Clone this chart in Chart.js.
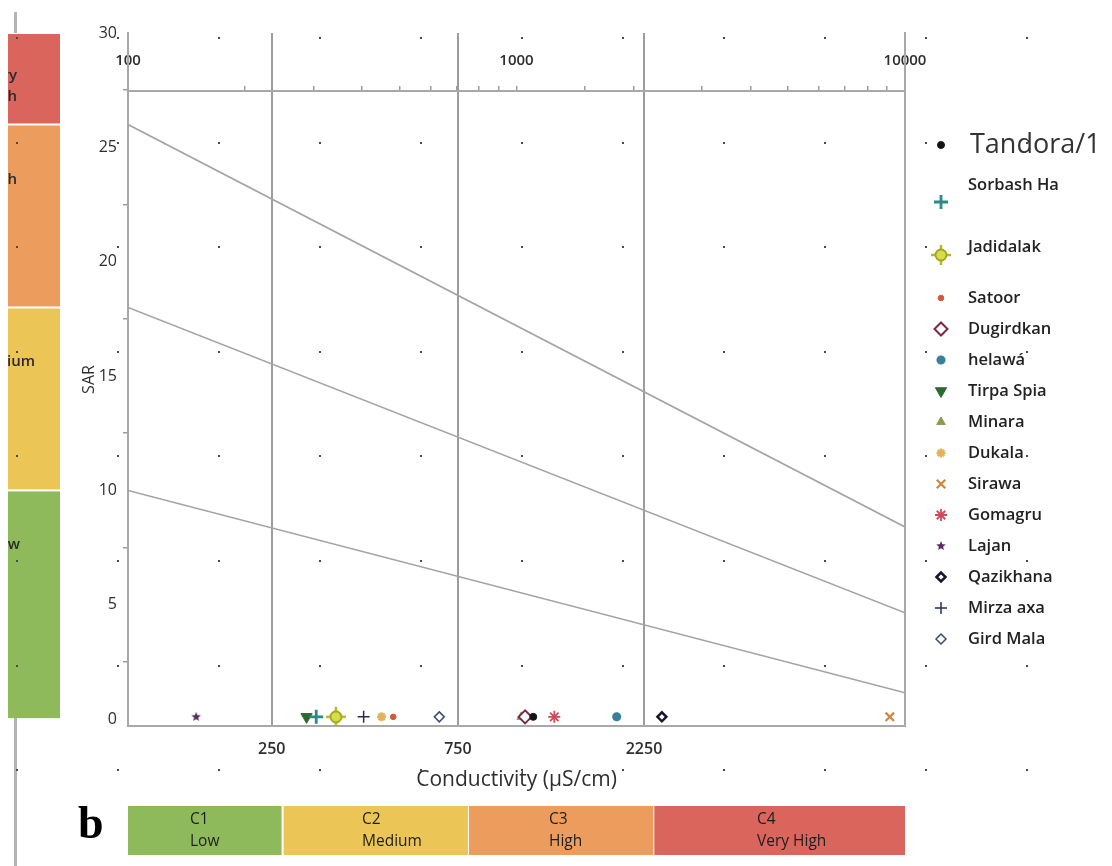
<!DOCTYPE html>
<html>
<head>
<meta charset="utf-8">
<script src="https://cdn.jsdelivr.net/npm/chart.js@4.4.1/dist/chart.umd.min.js"></script>
<style>
  html, body { margin: 0; padding: 0; background: #ffffff; }
  #wrap { position: relative; width: 1112px; height: 866px; }
</style>
</head>
<body>
<div id="wrap"><canvas id="chart" width="1112" height="866"></canvas></div>
<script>
// ---- Sampling sites: electrical conductivity (µS/cm) and sodium adsorption ratio ----
const siteNames = ['Tandora/1', 'Sorbash Ha', 'Jadidalak', 'Satoor', 'Dugirdkan', 'helawá',
  'Tirpa Spia', 'Minara', 'Dukala', 'Sirawa', 'Gomagru', 'Lajan', 'Qazikhana', 'Mirza axa', 'Gird Mala'];
const siteEC  = [1170, 325, 365, 512, 1115, 1915, 307, 1090, 478, 9600, 1325, 160, 2500, 430, 672];
const siteSAR = [0.1, 0.1, 0.1, 0.1, 0.1, 0.1, 0.1, 0.1, 0.1, 0.1, 0.1, 0.1, 0.1, 0.1, 0.1];

// ---- Axis ticks ----
const ecClassTicks = [250, 750, 2250];          // salinity class limits on the lower axis
const ecTopLabels  = [100, 1000, 10000];        // labelled decades on the upper axis
const sarTicks = [0, 2.5, 5, 7.5, 10, 12.5, 15, 17.5, 20, 22.5, 25, 27.5, 30];

// ---- Sodium hazard boundary lines (SAR at EC = 100 and EC = 10000) ----
const limitEC = [100, 10000];
const limitS4 = [26, 8.4];
const limitS3 = [18, 4.65];
const limitS2 = [10, 1.15];

// ---- Hazard classes ----
const ecClassBounds  = [100, 250, 750, 2250, 10000];
const ecClassCodes   = ['C1', 'C2', 'C3', 'C4'];
const ecClassNames   = ['Low', 'Medium', 'High', 'Very High'];
const sarClassBounds = [0, 10, 18, 26, 30];
const sarClassNames  = [['Low'], ['Medium'], ['High'], ['Very', 'High']];
const classColors    = ['#8fba5b', '#ebc656', '#ec9c5d', '#d9655d'];

// ---- Custom marker icons ----
function makeIcon(size, draw) {
  const c = document.createElement('canvas');
  c.width = size; c.height = size;
  draw(c.getContext('2d'), size / 2);
  return c;
}
const targetIcon = makeIcon(22, (g, m) => {
  g.strokeStyle = '#b3bb22'; g.lineWidth = 2.5;
  g.beginPath(); g.moveTo(m - 10, m); g.lineTo(m + 10, m); g.moveTo(m, m - 10); g.lineTo(m, m + 10); g.stroke();
  g.beginPath(); g.arc(m, m, 5.5, 0, Math.PI * 2);
  g.fillStyle = '#d6dc4a'; g.fill(); g.lineWidth = 1.8; g.strokeStyle = '#a2a41c'; g.stroke();
});
const starIcon = makeIcon(12, (g, m) => {
  g.beginPath();
  for (let i = 0; i < 10; i++) {
    const r = i % 2 === 0 ? 5 : 2.2;
    const a = -Math.PI / 2 + i * Math.PI / 5;
    g.lineTo(m + r * Math.cos(a), m + r * Math.sin(a));
  }
  g.closePath(); g.fillStyle = '#5b2b5e'; g.fill();
});

const markerStyles = [
  { pointStyle: 'circle',   radius: 3.5, fill: '#141414', stroke: '#141414', width: 1 },
  { pointStyle: 'cross',    radius: 7,   fill: '#2b8b8b', stroke: '#2b8b8b', width: 2.8 },
  { pointStyle: targetIcon, radius: 11,  fill: '#d6dc4a', stroke: '#a2a41c', width: 1 },
  { pointStyle: 'circle',   radius: 2.8, fill: '#d0593b', stroke: '#d0593b', width: 1 },
  { pointStyle: 'rectRot',  radius: 6.5, fill: '#ffffff', stroke: '#7b2848', width: 2 },
  { pointStyle: 'star',     radius: 4.5, fill: '#3a7f98', stroke: '#3a7f98', width: 3 },
  { pointStyle: 'triangle', radius: 6.5, fill: '#2d6a2e', stroke: '#2d6a2e', width: 1, rotation: 180 },
  { pointStyle: 'triangle', radius: 5,   fill: '#8c9c50', stroke: '#8c9c50', width: 1 },
  { pointStyle: 'star',     radius: 4.5, fill: '#e2b35a', stroke: '#e2b35a', width: 2.5 },
  { pointStyle: 'crossRot', radius: 6,   fill: '#d4843c', stroke: '#d4843c', width: 2.2 },
  { pointStyle: 'star',     radius: 6,   fill: '#d04a5a', stroke: '#d04a5a', width: 1.8 },
  { pointStyle: starIcon,   radius: 6,   fill: '#5b2b5e', stroke: '#5b2b5e', width: 1 },
  { pointStyle: 'rectRot',  radius: 4.5, fill: '#ffffff', stroke: '#151530', width: 2.5 },
  { pointStyle: 'cross',    radius: 6,   fill: '#2a2d55', stroke: '#2a2d55', width: 1.5 },
  { pointStyle: 'rectRot',  radius: 5,   fill: '#ffffff', stroke: '#3b4c6e', width: 1.5 }
];

// Legend rows: marker and label baselines
const legendMarkerY = [145, 202, 255, 298, 329, 360, 391, 422, 453, 484, 515, 546, 577, 608, 639];
const legendTextY   = [145, 185, 247, 298, 329, 360, 391, 422, 453, 484, 515, 546, 577, 608, 639];

const siteDatasets = siteNames.map((name, i) => {
  const s = markerStyles[i];
  return {
    label: name,
    data: [{ x: siteEC[i], y: siteSAR[i] }],
    xAxisID: 'x', yAxisID: 'y',
    pointStyle: s.pointStyle,
    pointRadius: s.radius,
    pointRotation: s.rotation || 0,
    backgroundColor: s.fill,
    borderColor: s.stroke,
    borderWidth: s.width,
    order: 0
  };
});

const limitDataset = (label, values) => ({
  label,
  data: limitEC.map((ec, i) => ({ x: ec, y: values[i] })),
  xAxisID: 'xTop', yAxisID: 'y',
  showLine: true, pointRadius: 0,
  borderColor: '#a3a3a3', borderWidth: 1.6,
  order: 10
});

// Background pieces: class bars, panel letter, dotted layout grid
const backdropPlugin = {
  id: 'backdrop',
  beforeDatasetsDraw(chart) {
    const { ctx } = chart;
    const yS = chart.scales.y;
    const xT = chart.scales.xTop;
    ctx.save();

    // left bar: sodium hazard classes
    for (let i = 0; i < 4; i++) {
      const yTop = yS.getPixelForValue(sarClassBounds[i + 1]);
      const yBot = yS.getPixelForValue(sarClassBounds[i]);
      ctx.fillStyle = classColors[i];
      ctx.fillRect(8, yTop + 1, 52, yBot - yTop - 2);
    }
    ctx.save();
    ctx.beginPath(); ctx.rect(8, 30, 52, 700); ctx.clip();
    ctx.fillStyle = '#2a2a2a';
    ctx.font = '600 15px "Open Sans"';
    ctx.textAlign = 'right'; ctx.textBaseline = 'middle';
    const sideRight = [20, 35, 17, 17];
    const sideY = [[545], [362], [180], [76, 97]];
    sarClassNames.forEach((lines, i) => {
      lines.forEach((t, k) => ctx.fillText(t, sideRight[i], sideY[i][k]));
    });
    ctx.restore();

    // thin frame line at the far left
    ctx.fillStyle = '#b4b4b4';
    ctx.fillRect(14, 12, 3, 21);
    ctx.fillRect(14, 718, 3, 148);

    // bottom bar: salinity hazard classes
    const textLeft = [190, 362, 549, 757];
    for (let i = 0; i < 4; i++) {
      const x0 = xT.getPixelForValue(ecClassBounds[i]);
      const x1 = xT.getPixelForValue(ecClassBounds[i + 1]);
      ctx.fillStyle = classColors[i];
      ctx.fillRect(x0 + (i ? 1 : 0), 806, x1 - x0 - 1, 49);
      ctx.fillStyle = '#1e1e1e';
      ctx.font = '15.5px "Open Sans"';
      ctx.textAlign = 'left'; ctx.textBaseline = 'middle';
      ctx.fillText(ecClassCodes[i], textLeft[i], 820);
      ctx.fillText(ecClassNames[i], textLeft[i], 842);
    }

    // panel letter
    ctx.fillStyle = '#000';
    ctx.font = 'bold 46px "Liberation Serif"';
    ctx.textAlign = 'left'; ctx.textBaseline = 'alphabetic';
    ctx.fillText('b', 78, 838);

    // dotted layout grid
    ctx.fillStyle = '#4a4a4a';
    for (let gx = 17; gx < 1112; gx += 101.05) {
      for (let gy = 38; gy < 866; gy += 104.6) {
        ctx.fillRect(Math.round(gx) - 1, Math.round(gy) - 1, 2, 2);
      }
    }
    ctx.restore();
  }
};

// Legend at the right, markers drawn with the chart's own point renderer
const sideLegendPlugin = {
  id: 'sideLegend',
  afterDraw(chart) {
    const { ctx } = chart;
    ctx.save();
    siteNames.forEach((name, i) => {
      const s = markerStyles[i];
      ctx.fillStyle = s.fill; ctx.strokeStyle = s.stroke; ctx.lineWidth = s.width;
      Chart.helpers.drawPoint(ctx, { pointStyle: s.pointStyle, radius: s.radius, rotation: s.rotation || 0, borderWidth: s.width }, 941, legendMarkerY[i]);
      ctx.textAlign = 'left'; ctx.textBaseline = 'middle';
      if (i === 0) {
        ctx.fillStyle = '#333';
        ctx.font = '27px "Open Sans"';
        ctx.fillText(name, 970, legendTextY[i]);
      } else {
        ctx.fillStyle = '#222';
        ctx.font = '600 16.5px "Open Sans"';
        ctx.fillText(name, 968, legendTextY[i]);
      }
    });
    ctx.restore();
  }
};

Chart.defaults.font.family = '"Open Sans", sans-serif';

new Chart(document.getElementById('chart'), {
  type: 'scatter',
  data: {
    datasets: [
      limitDataset('S4 limit', limitS4),
      limitDataset('S3 limit', limitS3),
      limitDataset('S2 limit', limitS2),
      ...siteDatasets
    ]
  },
  options: {
    responsive: false,
    animation: false,
    devicePixelRatio: 1,
    layout: { padding: { left: 0, top: 33, right: 207, bottom: 60 } },
    plugins: { legend: { display: false }, tooltip: { enabled: false } },
    scales: {
      x: {
        type: 'logarithmic', position: 'bottom', min: 107, max: 10500,
        afterBuildTicks: s => { s.ticks = ecClassTicks.map(v => ({ value: v })); },
        afterFit: s => { s.height = 80; },
        grid: { color: '#9c9c9c', lineWidth: 2, drawTicks: false },
        border: { color: '#a8a8a8', width: 2 },
        ticks: {
          autoSkip: false, maxRotation: 0, padding: 14, color: '#2e2e2e',
          font: { size: 16, weight: '600' },
          callback: v => String(v)
        },
        title: {
          display: true, text: 'Conductivity (µS/cm)', color: '#2e2e2e',
          font: { size: 21 }, padding: { top: 0, bottom: 13 }
        }
      },
      xTop: {
        type: 'logarithmic', axis: 'x', position: { y: 27.45 }, min: 100, max: 10000,
        grid: { drawOnChartArea: false, drawTicks: true, tickLength: -6, color: '#9c9c9c', lineWidth: 1.5 },
        border: { color: '#a8a8a8', width: 2 },
        ticks: {
          autoSkip: false, maxRotation: 0, padding: -34, color: '#2e2e2e',
          font: { size: 15, weight: '600' },
          callback: v => (ecTopLabels.includes(Math.round(v)) ? String(Math.round(v)) : '')
        }
      },
      y: {
        type: 'linear', position: 'left', min: -0.3, max: 30,
        afterBuildTicks: s => { s.ticks = sarTicks.map(v => ({ value: v })); },
        afterFit: s => { s.width = 128; },
        grid: {
          drawOnChartArea: false, drawTicks: true, tickLength: 5, lineWidth: 1.5,
          color: c => (c.tick && c.tick.value % 5 === 0 ? 'rgba(0,0,0,0)' : '#9c9c9c')
        },
        border: { color: '#a8a8a8', width: 2 },
        ticks: {
          padding: 6, color: '#2e2e2e', font: { size: 16 },
          callback: v => (v % 5 === 0 ? String(v) : '')
        },
        title: {
          display: true, text: 'SAR', color: '#2e2e2e',
          font: { size: 16 }, padding: { top: 80, bottom: 0 }
        }
      },
      yRight: {
        type: 'linear', position: 'right', min: -0.3, max: 30,
        afterFit: s => { s.width = 0; },
        grid: { drawOnChartArea: false, drawTicks: false },
        ticks: { display: false },
        border: { color: '#a8a8a8', width: 2 }
      }
    }
  },
  plugins: [backdropPlugin, sideLegendPlugin]
});
</script>
</body>
</html>
